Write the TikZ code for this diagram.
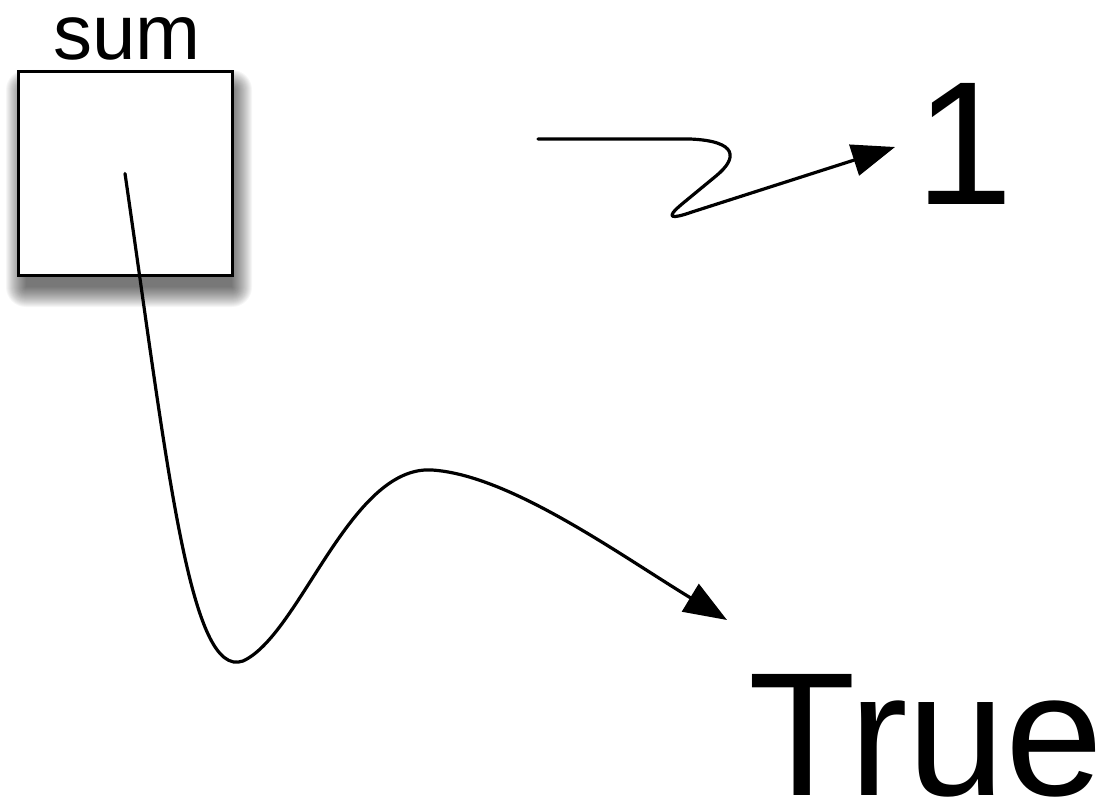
\documentclass[tikz,border=0pt]{standalone}
\usepackage{fontspec}
\setmainfont{Liberation Sans}
\usetikzlibrary{arrows.meta}
\begin{document}
\begin{tikzpicture}[x=1pt,y=-1pt,
  wire/.style={line width=3.2pt, line cap=round, line join=round},
  headed/.style={wire, -{Triangle[length=43pt,width=32pt]}},
  var/.style={draw, line width=3pt, fill=white, minimum width=214pt, minimum height=203pt, inner sep=0pt},
  bigtext/.style={inner sep=0pt, font=\fontsize{176}{180}\selectfont},
  label/.style={inner sep=0pt, anchor=base, font=\fontsize{78}{80}\selectfont}]
\useasboundingbox (0,0) rectangle (1110,802);
% soft shadow
\foreach \i in {0,...,20}{
  \fill[black, opacity=0.035, rounded corners=\i pt]
    ({18-\i+8},{72-\i+18}) rectangle ({232+\i},{275+\i+12});
}
\node[var] (box) at (125,173.5) {};
\node[label] (sum) at (127,60) {sum};
\node[bigtext, anchor=base] (one) at (964,205) {1};
\node[bigtext, anchor=base west] (true) at (748,795) {True};
\coordinate (tipA) at (727,620);
\coordinate (startB) at (538,139);
\coordinate (tipB) at (895,147);
\draw[headed] (box.center) .. controls (168,470) and (190,680) .. (243,661)
  .. controls (300,635) and (350,465) .. (432,470)
  .. controls (510,475) and (620,555) .. (tipA);
\draw[headed] (startB) -- (690,139) .. controls (738,141) and (738,158) .. (716,176)
  -- (682,204) .. controls (664,219) and (672,219) .. (692,212) -- (tipB);
\end{tikzpicture}
\end{document}
